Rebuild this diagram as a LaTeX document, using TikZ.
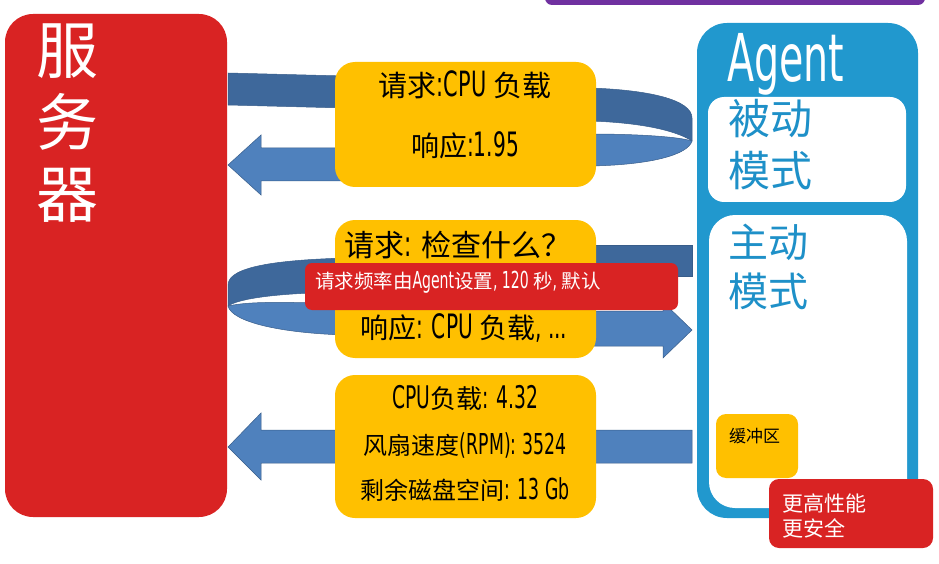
\documentclass[tikz,border=0pt]{standalone}
\usepackage{fontspec}
\usepackage{graphicx}
\setmainfont{Noto Sans CJK SC}
\newfontfamily\agfont[FakeStretch=0.6,Scale=1.2]{DejaVu Sans}
\newcommand\lt[1]{{\agfont #1}}
\definecolor{srvred}{RGB}{217,35,35}
\definecolor{agblue}{RGB}{33,152,206}
\definecolor{modeblue}{RGB}{30,144,200}
\definecolor{orng}{RGB}{255,192,0}
\definecolor{purp}{RGB}{112,48,160}
\definecolor{darkrib}{RGB}{62,104,155}
\definecolor{lightrib}{RGB}{79,129,189}
\definecolor{ribline}{RGB}{56,93,138}
\tikzset{
  box/.style={rectangle, inner sep=0, outer sep=0},
  srvbox/.style={box, fill=srvred, rounded corners=28pt, minimum width=222pt, minimum height=503pt},
  agbox/.style={box, fill=agblue, rounded corners=30pt, minimum width=221pt, minimum height=495pt},
  whitebox/.style={box, fill=white},
  orbox/.style={box, fill=orng, rounded corners=20pt, minimum width=261pt},
  redlabel/.style={box, fill=srvred, rounded corners=7pt},
  dribbon/.style={fill=darkrib, draw=ribline, line width=0.5pt},
  lribbon/.style={fill=lightrib, draw=ribline, line width=0.5pt},
  txt/.style={inner sep=0, outer sep=0},
  bigtxt/.style={txt, font=\fontsize{28}{34}\selectfont},
  midtxt/.style={txt, font=\fontsize{24}{30}\selectfont},
}
\begin{document}
\begin{tikzpicture}[x=1pt,y=-1pt]
\useasboundingbox (0,0) rectangle (939,564);
\begin{scope}
\clip (0,0) rectangle (939,564);
\fill[purp, rounded corners=7pt] (545,-20) rectangle (925,5);
\end{scope}

% ---- ribbons / arrows (behind) ----
% arrow 1 (agent answers to server)
\fill[dribbon] (228,73) -- (345,76) -- (345,108) -- (228,105) -- cycle;
\fill[dribbon] (590,88) .. controls (650,90) and (692,100) .. (692,118) -- (692,141) .. controls (680,133) and (650,123) .. (590,121) -- cycle;
\fill[lribbon] (590,134) .. controls (640,134) and (680,137) .. (692,141) .. controls (688,155) and (650,165) .. (590,166) -- cycle;
\fill[lribbon] (345,148) -- (261,148) -- (261,135) -- (228,165) -- (261,195) -- (261,181) -- (345,181) -- cycle;
% arrow 2 (server answers to agent)
\fill[dribbon] (590,245) -- (692,245) -- (692,276) -- (590,276) -- cycle;
\fill[dribbon] (345,258) .. controls (280,260) and (228,266) .. (228,285) -- (228,306) .. controls (240,298) and (280,293) .. (345,292) -- cycle;
\fill[lribbon] (228,306) .. controls (250,301) and (290,302) .. (345,304) -- (345,335) .. controls (280,333) and (232,322) .. (228,306) -- cycle;
\fill[lribbon] (590,311) -- (663,311) -- (663,302) -- (692,330) -- (663,358) -- (663,346) -- (590,346) -- cycle;
% arrow 3
\fill[lribbon] (692,430) -- (261,430) -- (261,413) -- (228,447) -- (261,480) -- (261,463) -- (692,463) -- cycle;

% ---- server ----
\node[srvbox] (server) at (116,265.5) {};
\node[txt, white, align=center, font=\fontsize{62}{72}\selectfont] (servert) at (67,123) {服\\务\\器};

% ---- agent ----
\node[agbox] (agent) at (807.5,270.5) {};
\node[txt, white, anchor=base west, font=\fontsize{55}{60}\selectfont\agfont] (agentt) at (727,82) {Agent};
\node[whitebox, rounded corners=16pt, minimum width=198pt, minimum height=105pt] (passive) at (807,149.5) {};
\node[txt, modeblue, anchor=west, align=left, font=\fontsize{42}{52}\selectfont] (passivet) at (728,145) {被动\\模式};
\node[whitebox, rounded corners=26pt, minimum width=198pt, minimum height=293pt] (active) at (808,361.5) {};
\node[txt, modeblue, anchor=west, align=left, font=\fontsize{40}{49}\selectfont] (activet) at (728,266.5) {主动\\模式};
\node[box, fill=orng, rounded corners=10pt, minimum width=82pt, minimum height=64pt] (buffer) at (757,446) {};
\node[txt, anchor=west, font=\fontsize{17}{20}\selectfont] (buffert) at (729,436) {缓冲区};
\node[redlabel, rounded corners=10pt, minimum width=164pt, minimum height=69pt] (perf) at (851,513.5) {};
\node[txt, white, anchor=west, align=left, font=\fontsize{21}{25}\selectfont] (perft) at (782,515.5) {更高性能\\更安全};

% ---- orange message boxes ----
\node[orbox, minimum height=125pt] (msg1) at (465.5,124.5) {};
\node[bigtxt, font=\fontsize{29}{34}\selectfont] (msg1a) at (465,85) {请求\lt{:CPU }负载};
\node[bigtxt] (msg1b) at (465,145) {响应\lt{:1.95}};

\node[orbox, minimum height=138pt] (msg2) at (465.5,289) {};
\node[bigtxt, font=\fontsize{30}{34}\selectfont] (msg2a) at (458,245) {请求\lt{: }检查什么？};
\node[bigtxt] (msg2b) at (464,328) {响应\lt{: CPU }负载\lt{, ...}};

\node[orbox, minimum height=143pt] (msg3) at (465.5,446.5) {};
\node[midtxt, font=\fontsize{26}{30}\selectfont] (msg3a) at (465,398) {\lt{CPU}负载\lt{: 4.32}};
\node[midtxt] (msg3b) at (465,445) {风扇速度\lt{(RPM): 3524}};
\node[midtxt] (msg3c) at (465,490) {剩余磁盘空间\lt{: 13 Gb}};

% ---- red frequency label ----
\node[redlabel, minimum width=373pt, minimum height=47pt] (freq) at (491.5,286.5) {};
\node[txt, white, anchor=west, font=\fontsize{19.5}{22}\selectfont] (freqt) at (315,282) {请求频率由\lt{Agent}设置\lt{, 120 }秒\lt{, }默认};
\end{tikzpicture}
\end{document}
